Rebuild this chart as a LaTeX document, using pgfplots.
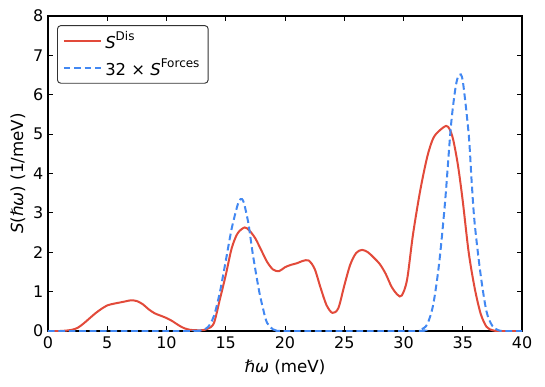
\documentclass[border=0pt]{standalone}
\usepackage{fontspec}
\setmainfont{DejaVu Sans}
\usepackage{pgfplots}
\pgfplotsset{compat=1.18}
\definecolor{disred}{RGB}{226,74,58}
\definecolor{forceblue}{RGB}{66,136,242}
\newcommand\sups[1]{\raisebox{0.48em}{\fontsize{9pt}{10pt}\selectfont #1}}

\pgfplotstableread{
x y
0 0
1 0
1.5 0.01
2 0.03
2.5 0.08
3 0.19
3.5 0.32
4 0.45
4.5 0.56
5 0.65
5.5 0.69
6 0.72
6.5 0.75
7 0.78
7.5 0.76
8 0.68
8.5 0.55
9 0.45
9.5 0.39
10 0.33
10.5 0.25
11 0.15
11.5 0.07
12 0.03
12.5 0.02
13 0.02
13.5 0.06
14 0.2
14.5 0.8
15 1.42
15.5 2.1
16 2.48
16.6 2.63
17 2.55
17.5 2.35
18 2.05
18.5 1.75
19 1.56
19.5 1.52
20 1.62
20.5 1.68
21 1.72
21.5 1.78
22 1.79
22.5 1.58
23 1.1
23.5 0.66
24 0.46
24.5 0.58
25 1.15
25.5 1.68
26 1.98
26.5 2.06
27 2.0
27.5 1.86
28 1.7
28.5 1.45
29 1.12
29.5 0.92
29.85 0.9
30.3 1.3
30.8 2.45
31.4 3.55
32 4.42
32.5 4.89
33 5.08
33.6 5.21
33.9 5.12
34.2 4.85
34.6 4.2
35 3.3
35.5 2.0
36 1.1
36.5 0.45
37 0.11
37.5 0.02
38 0
39 0
40 0
}\disdata

\pgfplotstableread{
x y
0 0
12 0
12.5 0.005
13 0.02
13.5 0.1
14 0.38
14.5 0.98
15 1.78
15.5 2.6
16 3.2
16.25 3.35
16.5 3.28
16.9 2.75
17.3 1.92
17.8 1.04
18.2 0.5
18.5 0.2
19 0.04
19.5 0.005
20 0
31 0
31.5 0.04
32 0.17
32.5 0.66
33 1.7
33.5 3.25
34 5.2
34.4 6.2
34.7 6.51
35 6.35
35.5 5.0
35.75 3.8
36 2.75
36.5 1.45
37 0.5
37.5 0.13
38 0.02
38.5 0
40 0
}\forcedata

\begin{document}
\begin{tikzpicture}
\begin{axis}[
    name=ax,
    scale only axis,
    width=355.5pt, height=236.25pt,
    xmin=0, xmax=40, ymin=0, ymax=8,
    xtick={0,5,...,40}, ytick={0,1,...,8},
    tick align=inside,
    major tick length=3.5pt,
    tick style={black, line width=0.6pt},
    axis line style={black, line width=0.8pt},
    /pgf/number format/assume math mode=true,
    ticklabel style={font=\fontsize{12pt}{14pt}\selectfont},
    xticklabel style={yshift=-1pt},
    xlabel={\textit{ℏω} (meV)},
    ylabel={\textit{S}(\textit{ℏω}) (1/meV)},
    label style={font=\fontsize{12.5pt}{14pt}\selectfont},
    xlabel style={yshift=-1pt},
    ylabel style={yshift=-1pt},
    legend style={at={(0.019,0.971)}, anchor=north west, draw=black!80,
        rounded corners=2.5pt, line width=0.7pt,
        font=\fontsize{12.3pt}{14pt}\selectfont,
        row sep=1pt, inner xsep=4pt, inner ysep=2pt,
        nodes={inner sep=2.5pt}},
    legend cell align=left,
    legend image code/.code={\draw[#1] (0cm,0cm) -- (0.98cm,0cm);},
]
\addplot[disred, line width=1.5pt, smooth, tension=0.5] table {\disdata};
\addplot[forceblue, line width=1.5pt, dash pattern=on 5pt off 2.8pt, smooth, tension=0.5] table {\forcedata};
\legend{\textit{S}\sups{Dis}, 32 × \textit{S}\sups{Forces}}
\end{axis}
\path[use as bounding box] (ax.south west) ++(-36pt,-41.25pt) rectangle ++(408.75pt,289.5pt);
\end{tikzpicture}
\end{document}
